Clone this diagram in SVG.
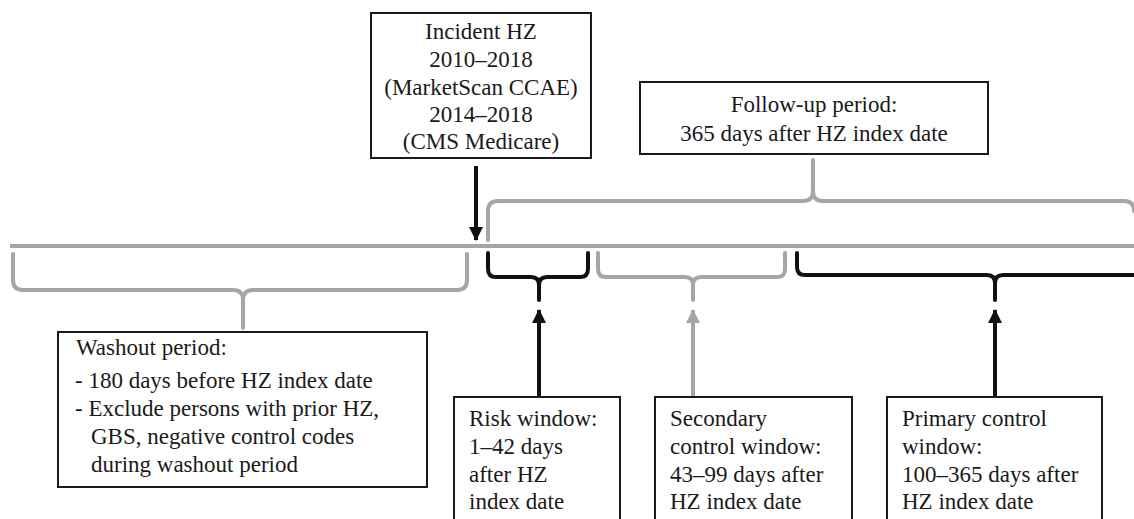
<svg xmlns="http://www.w3.org/2000/svg" width="1134" height="519" viewBox="0 0 1134 519">
  <style>
    .box { fill: #ffffff; stroke: #1a1a1a; stroke-width: 2; }
    .t { font-family: "Liberation Serif", "Times New Roman", serif; font-size: 23px; fill: #1a1a1a; }
    .tc { text-anchor: middle; }
    .gray { fill: none; stroke: #a6a6a6; stroke-width: 4; stroke-linecap: round; stroke-linejoin: round; }
    .black { fill: none; stroke: #111111; stroke-width: 4; stroke-linecap: round; stroke-linejoin: round; }
    .arrowK { stroke: #111111; stroke-width: 4; fill: none; }
    .arrowG { stroke: #a6a6a6; stroke-width: 4; fill: none; }
  </style>
  <defs>
    <marker id="headK" markerUnits="userSpaceOnUse" markerWidth="14" markerHeight="16" refX="13" refY="7" orient="auto">
      <path d="M0,0 L14,7 L0,14 Z" fill="#111111"/>
    </marker>
    <marker id="headG" markerUnits="userSpaceOnUse" markerWidth="14" markerHeight="16" refX="13" refY="7" orient="auto">
      <path d="M0,0 L14,7 L0,14 Z" fill="#a6a6a6"/>
    </marker>
  </defs>
  <rect x="0" y="0" width="1134" height="519" fill="#ffffff"/>

  <g id="connectors">
    <!-- timeline -->
    <line x1="10" y1="246" x2="1134" y2="246" stroke="#a6a6a6" stroke-width="4"/>
    <!-- follow-up brace (upward) -->
    <path class="gray" d="M488,240 V211 Q488,201 498,201 H803 Q813,201 813,191 V160 M813,191 Q813,201 823,201 H1124 Q1134,201 1134,211"/>
    <!-- washout brace -->
    <path class="gray" d="M13,254 V280 Q13,290 23,290 H233 Q243,290 243,300 V328 M243,300 Q243,290 253,290 H457 Q467,290 467,280 V254"/>
    <!-- risk brace -->
    <path class="black" d="M488,253 V269 Q488,277 496,277 H531 Q539,277 539,285 V300 M539,285 Q539,277 547,277 H580 Q588,277 588,269 V253"/>
    <!-- secondary brace -->
    <path class="gray" d="M598,253 V269 Q598,277 606,277 H685 Q693,277 693,285 V300 M693,285 Q693,277 701,277 H777 Q785,277 785,269 V253"/>
    <!-- primary brace -->
    <path class="black" d="M797,253 V267 Q797,275 805,275 H987 Q995,275 995,283 V300 M995,283 Q995,275 1003,275 H1140"/>
    <!-- arrows -->
    <line class="arrowK" x1="476" y1="166" x2="476" y2="240" marker-end="url(#headK)"/>
    <line class="arrowK" x1="539" y1="397" x2="539" y2="310" marker-end="url(#headK)"/>
    <line class="arrowG" x1="693" y1="397" x2="693" y2="310" marker-end="url(#headG)"/>
    <line class="arrowK" x1="995" y1="397" x2="995" y2="310" marker-end="url(#headK)"/>
  </g>

  <g id="incident">
    <rect class="box" x="371" y="13" width="220" height="145"/>
    <text class="t tc" x="481" y="39">Incident HZ</text>
    <text class="t tc" x="481" y="67">2010–2018</text>
    <text class="t tc" x="481" y="95">(MarketScan CCAE)</text>
    <text class="t tc" x="481" y="122">2014–2018</text>
    <text class="t tc" x="481" y="149">(CMS Medicare)</text>
  </g>

  <g id="followup">
    <rect class="box" x="640" y="82" width="348" height="72"/>
    <text class="t tc" x="814" y="112">Follow-up period:</text>
    <text class="t tc" x="814" y="141">365 days after HZ index date</text>
  </g>

  <g id="washout">
    <rect class="box" x="58" y="332" width="369" height="155"/>
    <text class="t" x="76" y="355">Washout period:</text>
    <text class="t" x="75" y="388">- 180 days before HZ index date</text>
    <text class="t" x="75" y="416">- Exclude persons with prior HZ,</text>
    <text class="t" x="91" y="444">GBS, negative control codes</text>
    <text class="t" x="91" y="472">during washout period</text>
  </g>

  <g id="risk">
    <rect class="box" x="454" y="397" width="166" height="140"/>
    <text class="t" x="469" y="426">Risk window:</text>
    <text class="t" x="469" y="454">1–42 days</text>
    <text class="t" x="469" y="482">after HZ</text>
    <text class="t" x="469" y="509">index date</text>
  </g>

  <g id="secondary">
    <rect class="box" x="655" y="397" width="197" height="140"/>
    <text class="t" x="670" y="426">Secondary</text>
    <text class="t" x="670" y="454">control window:</text>
    <text class="t" x="670" y="482">43–99 days after</text>
    <text class="t" x="670" y="509">HZ index date</text>
  </g>

  <g id="primary">
    <rect class="box" x="887" y="397" width="215" height="140"/>
    <text class="t" x="902" y="426">Primary control</text>
    <text class="t" x="902" y="454">window:</text>
    <text class="t" x="902" y="482">100–365 days after</text>
    <text class="t" x="902" y="509">HZ index date</text>
  </g>
</svg>
